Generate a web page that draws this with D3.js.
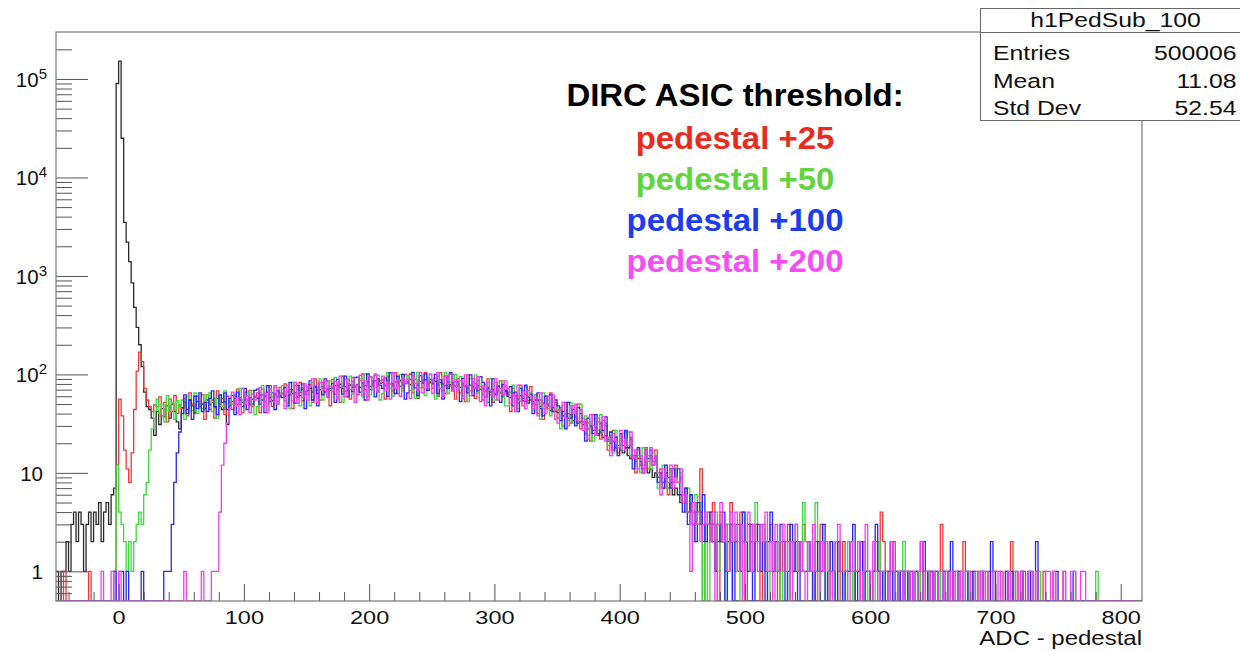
<!DOCTYPE html>
<html>
<head>
<meta charset="utf-8">
<script src="https://cdn.jsdelivr.net/npm/d3@7"></script>
<style>
  body { margin: 0; background: #fff; }
  svg { display: block; font-family: "Liberation Sans", Arial, Helvetica, sans-serif; }
</style>
</head>
<body>
<div id="chart"></div>
<script>
// histogram binning: 2 ADC counts per bin, first bin starts at -50
var binStart = -50;
var binWidth = 2;

// bin contents (10 bins = 20 ADC per row, missing bins are empty)
var blackCounts = [
  1,0,1,1,2,1,3,4,2,4, 3,1,3,4,2,4,3,5,2,4,
  5,3,6,7,90000,152000,25000,3500,2200,1400, 850,480,300,200,120,66,47,44,36,24,
  42,31,45,37,48,36,50,42,33,28, 46,52,44,55,48,41,53,47,50,45,
  55,49,52,46,57,50,44,53,31,48, 53,57,50,58,52,55,61,49,56,59,
  57,62,55,60,66,58,54,63,59,61, 64,60,67,62,70,65,59,66,71,63,
  68,72,66,74,64,70,75,67,71,69, 73,77,70,79,72,75,68,78,74,76,
  79,74,82,77,84,76,80,86,78,81, 83,78,85,80,76,84,82,87,79,81,
  84,79,86,81,78,85,82,88,80,83, 81,85,78,83,80,77,84,79,82,76,
  79,74,81,76,72,78,75,73,77,71, 72,68,74,66,70,64,69,65,62,67,
  63,58,65,60,56,61,57,53,59,55, 53,49,55,47,51,45,48,43,46,42,
  41,44,38,40,36,39,34,37,32,33, 31,33,28,30,27,29,25,26,23,24,
  22,20,21,18,19,17,16,18,15,14, 15,13,14,12,11,13,10,11,9,10,
  9,10,8,9,7,8,6,7,6,5, 6,5,4,5,3,4,3,4,2,3,
  3,2,3,1,2,3,2,1,2,2
];

var redCounts = [
  0,0,0,1,0,0,0,0,0,0, 0,0,0,1,0,0,0,0,0,0,
  0,0,0,1,12,56,38,17,11,8, 16,44,108,168,135,72,55,47,42,49,
  47,59,38,52,33,56,42,61,40,49, 45,57,38,65,50,40,60,47,62,35,
  62,44,55,36,68,47,57,39,60,52, 44,60,71,50,41,66,55,69,47,60,
  65,41,71,59,50,77,47,62,53,74, 64,80,51,70,45,77,58,83,54,67,
  62,79,52,90,69,55,83,66,86,48, 89,63,78,52,96,67,81,56,85,74,
  62,86,101,70,59,94,78,97,66,86, 88,56,96,80,68,104,64,84,72,100,
  81,101,65,89,57,97,73,105,69,85, 72,92,60,104,80,64,96,76,100,56,
  91,65,80,53,99,68,84,57,87,76, 55,76,90,62,52,83,69,86,59,76,
  66,42,72,60,51,78,48,63,54,75, 50,62,40,55,35,60,45,65,42,52,
  36,46,30,52,40,32,48,38,50,28, 36,25,32,21,39,27,33,22,34,30,
  17,23,27,19,16,25,21,26,18,23, 15,10,17,14,12,18,11,15,13,17,
  9,11,7,10,6,11,8,12,8,9, 5,7,4,6,3,5,4,11,0,3,
  4,2,5,3,0,4,2,3,1,5, 2,3,1,4,2,0,3,2,1,3,
  2,0,3,1,2,3,1,2,0,2, 1,2,3,0,2,1,2,1,3,2,
  2,1,0,2,1,3,1,2,0,1, 1,2,1,0,2,1,1,2,0,1,
  1,0,2,1,1,0,1,2,1,4, 2,1,0,1,2,1,0,1,1,0,
  1,0,1,1,0,2,1,0,1,1, 0,1,0,3,1,0,1,0,1,0,
  1,0,2,1,0,1,0,0,1,0, 1,0,1,0,0,1,1,0,0,1,
  0,2,0,1,0,0,1,0,0,1, 0,1,0,0,1,0,0,0,1,0,
  0,0,1,0,0,0,0,0,0,0
];

var greenCounts = [
  0,0,0,0,0,0,0,0,0,0, 0,0,0,0,0,0,0,0,0,0,
  0,0,0,0,12,4,3,2,1,2, 1,2,3,4,3,6,8,17,28,42,
  56,40,49,33,61,42,52,35,54,47, 55,35,60,50,43,65,40,53,45,62,
  52,65,42,57,36,62,47,68,44,55, 50,63,41,72,55,44,66,52,69,39,
  47,65,77,53,44,71,59,74,50,65, 77,54,67,45,83,58,70,48,74,64,
  76,48,83,69,59,90,55,72,62,86, 74,93,59,81,52,89,67,96,63,78,
  70,90,59,101,78,62,94,74,98,55, 64,88,104,72,60,96,80,100,68,88,
  97,69,85,57,105,73,89,61,93,81, 88,56,96,80,68,104,64,84,72,100,
  76,95,61,84,53,91,68,99,65,80, 62,79,52,90,69,55,83,66,86,48,
  48,66,78,54,45,72,60,75,51,66, 60,43,53,35,65,45,55,38,58,50,
  44,28,48,40,34,52,32,42,36,50, 30,38,24,33,21,36,27,39,26,32,
  19,24,16,27,21,17,25,20,26,15, 17,12,15,10,18,13,15,11,16,14,
  7,10,12,8,7,11,9,11,8,10, 6,4,7,5,2,6,3,5,0,3,
  0,3,2,4,1,3,2,0,3,2, 3,1,2,0,4,2,1,3,2,5,
  2,1,3,2,0,1,2,1,2,0, 1,2,0,2,1,3,1,2,5,2,
  1,2,1,5,0,1,2,0,1,2, 1,0,2,1,1,0,2,1,0,1,
  1,2,0,1,0,1,1,0,2,1, 0,1,1,0,1,0,1,0,2,0,
  1,0,0,1,0,1,0,0,1,0, 1,0,0,1,0,0,1,0,0,1,
  0,1,0,0,1,0,0,1,0,0, 1,0,0,1,0,0,0,1,0,0,
  0,0,1,0,0,1,0,0,0,1, 0,0,1,0,0,0,0,0,0,0,
  0,0,0,0,0,0,0,0,0,0, 0,0,0,0,0,1,0,0,0,0
];

var blueCounts = [
  0,0,0,0,0,0,0,0,0,0, 0,0,0,0,0,0,0,0,0,0,
  0,0,0,1,0,1,1,0,1,0, 0,0,0,0,1,0,0,0,0,0,
  0,0,0,1,1,1,3,8,16,26, 40,62,40,55,35,60,45,65,42,52,
  42,57,68,47,39,62,52,65,44,57, 61,39,66,55,47,72,44,58,50,69,
  71,50,62,41,77,53,65,44,68,59, 58,74,48,83,64,51,77,61,80,45,
  69,86,55,76,48,83,62,90,59,72, 81,52,89,74,63,96,59,78,67,93,
  94,66,82,55,101,70,86,59,90,78, 72,92,60,104,80,64,96,76,100,56,
  65,89,105,73,61,97,81,101,69,89, 80,100,64,88,56,96,72,104,68,84,
  84,53,91,76,65,99,61,80,68,95, 83,59,72,48,90,62,76,52,79,69,
  60,75,48,66,42,72,54,78,51,63, 40,55,65,45,38,60,50,62,42,55,
  48,34,42,28,52,36,44,30,46,40, 33,21,36,30,25,39,24,32,27,37,
  21,26,17,23,15,25,19,27,18,22, 11,15,18,13,10,17,14,17,12,15,
  8,10,7,12,9,7,11,9,11,6, 4,7,3,6,4,2,5,3,6,2,
  3,4,2,1,3,2,4,0,2,3, 0,2,3,1,4,2,1,3,0,2,
  3,1,2,0,2,4,1,2,1,3, 2,0,1,3,1,2,0,2,1,1,
  2,1,0,1,2,1,3,0,1,2, 1,0,2,1,0,1,1,2,3,0,
  1,2,0,1,1,0,1,3,1,0, 1,0,1,2,0,1,0,1,0,1,
  0,1,0,1,0,0,2,1,0,1, 0,1,0,0,1,0,1,2,0,0,
  1,0,0,1,0,0,1,0,0,1, 0,0,0,2,1,0,0,0,0,1,
  0,1,0,0,0,1,0,0,1,0, 0,2,0,0,0,0,0,0,0,1,
  0,0,0,0,0,0,1,0,0,0
];

var magentaCounts = [
  0,0,0,0,0,0,0,0,0,0, 0,0,0,0,0,0,0,0,1,0,
  0,0,1,0,0,1,0,0,0,0, 0,0,0,0,0,0,0,0,0,0,
  0,0,0,0,0,0,0,0,0,0, 0,1,0,0,0,0,0,0,1,0,
  0,0,1,1,1,4,12,20,32,45, 66,47,58,39,72,50,61,41,63,55,
  59,74,47,65,41,71,53,77,50,62, 70,45,77,64,54,83,51,67,58,80,
  55,76,90,62,52,83,69,86,59,76, 67,85,56,96,74,59,89,70,93,52,
  78,98,62,86,55,94,70,101,66,82, 96,68,84,56,104,72,88,60,92,80,
  89,57,97,81,69,105,65,85,73,101, 64,88,104,72,60,96,80,100,68,88,
  68,87,57,99,76,61,91,72,95,53, 76,48,83,69,59,90,55,72,62,86,
  72,51,63,42,78,54,66,45,69,60, 45,58,38,65,50,40,60,47,62,35,
  32,44,52,36,30,48,40,50,34,44, 27,35,22,39,30,24,36,28,37,21,
  23,15,25,21,18,27,17,22,19,26, 14,17,11,15,10,17,13,18,12,15,
  10,6,11,9,8,12,7,9,8,11, 5,6,4,1,5,3,4,2,3,4,
  3,2,4,0,3,5,2,3,1,4, 2,4,1,3,0,2,4,1,3,2,
  1,3,2,4,1,2,0,3,1,2, 3,1,2,0,2,3,1,2,1,0,
  2,1,3,1,0,2,1,2,1,0, 1,2,3,1,1,1,0,2,1,1,
  2,0,1,3,1,0,2,1,0,1, 1,1,0,2,1,0,1,1,0,1,
  1,0,1,0,1,2,0,1,1,0, 1,0,1,1,0,1,0,1,0,1,
  0,1,0,1,1,0,0,1,0,1, 0,1,0,0,1,1,0,1,0,0,
  1,0,0,1,0,1,0,0,1,1, 0,1,0,0,0,1,1,0,1,0,
  0,0,1,0,0,1,1,0,0,1, 1,0,0,0,0,0,0,0,0,0
];

var seriesCounts = [blackCounts, redCounts, greenCounts, blueCounts, magentaCounts];
var seriesColors = ["#2a2a2a", "#ee3838", "#3cd83c", "#2828ec", "#f03ef0"];

// axis ticks
var xMajorTicks = [0, 100, 200, 300, 400, 500, 600, 700, 800];
var xMinorTicks = d3.range(-40, 820, 20).filter(d => d % 100 !== 0);
var yMajorTicks = [1, 10, 100, 1000, 10000, 100000];
var yMinorTicks = [0.6, 0.7, 0.8, 0.9].concat(
  d3.merge([1, 10, 100, 1000, 10000, 100000].map(p => d3.range(2, 10).map(k => k * p)))
).filter(d => d < 300000);

// legend and stats box text
var legendTitle = "DIRC ASIC threshold:";
var legendLines = ["pedestal +25", "pedestal +50", "pedestal +100", "pedestal +200"];
var legendColors = ["#e62b20", "#62d43e", "#1c3cf0", "#f54ef5"];
var statsTitle = "h1PedSub_100";
var statsLabels = ["Entries", "Mean", "Std Dev"];
var statsValues = ["500006", "11.08", "52.54"];

// define SVG size and margins
var svgWidth = 1240;
var svgHeight = 651;
var margin = { top: 32, right: 98, bottom: 50, left: 56 };
var width = svgWidth - margin.left - margin.right;
var height = svgHeight - margin.top - margin.bottom;

// the ROOT canvas text is wider than plain Helvetica
var wide = 1.27;

var svg = d3.select("#chart")
  .append("svg")
  .attr("width", svgWidth)
  .attr("height", svgHeight);

var chartGroup = svg.append("g")
  .attr("transform", `translate(${margin.left}, ${margin.top})`);

// scales
var xMin = -50, xMax = 817;
var yMin = 0.5, yMax = 300000;
var xScale = d3.scaleLinear().domain([xMin, xMax]).range([0, width]);
var yScale = d3.scaleLog().domain([yMin, yMax]).range([height, 0]);

svg.append("defs").append("clipPath")
  .attr("id", "frameClip")
  .append("rect")
  .attr("x", 0).attr("y", 0)
  .attr("width", width).attr("height", height);

// step outline of a histogram, empty bins go down to the frame bottom
var nBins = Math.ceil((xMax - binStart) / binWidth);
function histPath(counts) {
  var p = "";
  for (var i = 0; i < nBins; i++) {
    var c = counts[i] || 0;
    var lo = xScale(binStart + i * binWidth);
    var hi = xScale(binStart + (i + 1) * binWidth);
    var yy = yScale(Math.max(c, yMin));
    p += (i === 0 ? "M" + lo + "," + yy : "V" + yy) + "H" + hi;
  }
  return p;
}

var histGroup = chartGroup.append("g").attr("clip-path", "url(#frameClip)");
histGroup.selectAll("path")
  .data(seriesCounts)
  .enter()
  .append("path")
  .attr("d", d => histPath(d))
  .attr("fill", "none")
  .attr("stroke", (d, i) => seriesColors[i])
  .attr("stroke-width", 1.3);

// axes (ROOT style: ticks point inside the frame)
var axisColor = "#555";
var xAxisMajor = chartGroup.append("g")
  .attr("transform", `translate(0, ${height})`)
  .call(d3.axisBottom(xScale).tickValues(xMajorTicks).tickSize(-17).tickFormat(d3.format("d")));
var xAxisMinor = chartGroup.append("g")
  .attr("transform", `translate(0, ${height})`)
  .call(d3.axisBottom(xScale).tickValues(xMinorTicks).tickSize(-9).tickFormat(""));
var yAxisMajor = chartGroup.append("g")
  .call(d3.axisLeft(yScale).tickValues(yMajorTicks).tickSize(-32).tickFormat(""));
var yAxisMinor = chartGroup.append("g")
  .call(d3.axisLeft(yScale).tickValues(yMinorTicks).tickSize(-16).tickFormat(""));

[xAxisMajor, xAxisMinor, yAxisMajor, yAxisMinor].forEach(function(a) {
  a.select(".domain").remove();
  a.selectAll(".tick line").attr("stroke", axisColor);
});

xAxisMajor.selectAll(".tick text")
  .attr("y", 0)
  .attr("dy", 0)
  .attr("transform", `translate(0, 23) scale(${wide}, 1)`)
  .style("font-size", "18.5px")
  .attr("fill", "#111");

// y labels: 1, 10 plain, higher decades as 10 with exponent
yAxisMajor.selectAll(".tick text").each(function(d) {
  var t = d3.select(this)
    .attr("x", -13)
    .attr("dy", "0.36em")
    .style("font-size", "20.5px")
    .attr("fill", "#111");
  var e = Math.round(Math.log10(d));
  if (e < 2) {
    t.text(String(d));
  } else {
    t.attr("x", -9);
    t.append("tspan").text("10");
    t.append("tspan").attr("dy", "-0.55em").style("font-size", "15px").text(e);
  }
});

// frame
chartGroup.append("rect")
  .attr("x", 0).attr("y", 0)
  .attr("width", width).attr("height", height)
  .attr("fill", "none")
  .attr("stroke", "#777")
  .attr("stroke-width", 1.2);

// x axis title
chartGroup.append("text")
  .attr("transform", `translate(${width}, ${height + 44}) scale(1.2, 1)`)
  .attr("text-anchor", "end")
  .style("font-size", "20px")
  .attr("fill", "#111")
  .text("ADC - pedestal");

// threshold legend
var legendGroup = svg.append("g")
  .attr("transform", "translate(735, 0)")
  .style("font-weight", "bold")
  .style("font-size", "30.5px")
  .attr("text-anchor", "middle");

legendGroup.append("text")
  .attr("transform", "translate(0, 106) scale(1.08, 1)")
  .attr("fill", "#000")
  .text(legendTitle);
legendGroup.selectAll(".legendLine")
  .data(legendLines)
  .enter()
  .append("text")
  .classed("legendLine", true)
  .attr("transform", (d, i) => `translate(0, ${149 + i * 41}) scale(1.08, 1)`)
  .attr("fill", (d, i) => legendColors[i])
  .text(d => d);

// stats box
var statsGroup = svg.append("g").attr("transform", "translate(980.5, 8.5)");
statsGroup.append("rect")
  .attr("width", 272).attr("height", 112)
  .attr("fill", "#fff")
  .attr("stroke", "#666");
statsGroup.append("line")
  .attr("x1", 0).attr("x2", 272)
  .attr("y1", 24).attr("y2", 24)
  .attr("stroke", "#666");
statsGroup.append("text")
  .attr("transform", `translate(135, 18.5) scale(${wide}, 1)`)
  .attr("text-anchor", "middle")
  .style("font-size", "19.5px")
  .attr("fill", "#111")
  .text(statsTitle);
statsLabels.forEach(function(label, i) {
  statsGroup.append("text")
    .attr("transform", `translate(12.5, ${51.5 + i * 27.5}) scale(${wide}, 1)`)
    .style("font-size", "19.5px")
    .attr("fill", "#111")
    .text(label);
  statsGroup.append("text")
    .attr("transform", `translate(256, ${51.5 + i * 27.5}) scale(${wide}, 1)`)
    .attr("text-anchor", "end")
    .style("font-size", "19.5px")
    .attr("fill", "#111")
    .text(statsValues[i]);
});
</script>
</body>
</html>
